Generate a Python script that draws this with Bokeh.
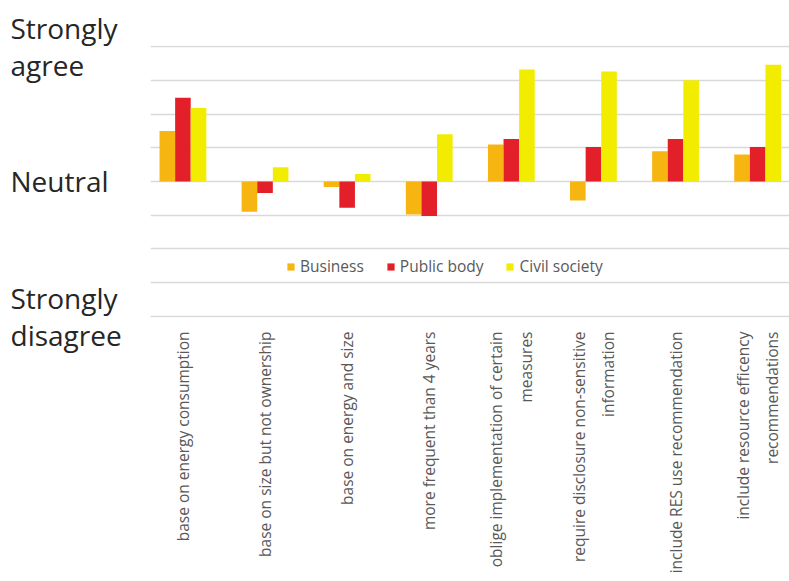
import math
from bokeh.plotting import figure
from bokeh.layouts import row, column
from bokeh.models import ColumnDataSource, Range1d, FixedTicker
from bokeh.transform import dodge
from bokeh.embed import file_html
from bokeh.resources import INLINE

categories = [
    "base on energy consumption",
    "base on size but not ownership",
    "base on energy and size",
    "more frequent than 4 years",
    "oblige implementation of certain\nmeasures",
    "require disclosure non-sensitive\ninformation",
    "include RES use recommendation",
    "include resource efficency\nrecommendations",
]
business = [0.75, -0.45, -0.08, -0.49, 0.55, -0.28, 0.45, 0.40]
public_body = [1.24, -0.17, -0.39, -0.51, 0.63, 0.51, 0.63, 0.51]
civil_society = [1.09, 0.21, 0.11, 0.70, 1.66, 1.63, 1.50, 1.73]

series_names = ["Business", "Public body", "Civil society"]
series_colors = ["#F7B512", "#E3202A", "#F2EC00"]

y_levels = [2, 0, -2]
y_level_labels = ["Strongly\nagree", "Neutral", "Strongly\ndisagree"]
grid_levels = [-2, -1.5, -1, -0.5, 0, 0.5, 1, 1.5, 2]

pos = list(range(len(categories)))
source = ColumnDataSource(dict(pos=pos, business=business,
                               public=public_body, civil=civil_society))

# ---- left panel holding the agreement-scale labels ----
lp = figure(
    width=150, height=581,
    x_range=Range1d(0, 150), y_range=Range1d(-5.926, 2.681),
    output_backend="svg", toolbar_location=None,
    min_border_left=0, min_border_right=0, min_border_top=0, min_border_bottom=0,
)
lp.axis.visible = False
lp.grid.visible = False
lp.outline_line_color = None
lp.text(x=[10] * len(y_levels), y=y_levels, text=y_level_labels,
        text_align="left", text_baseline="middle",
        text_font=dict(value="Open Sans"), text_font_size="28px",
        text_color="#262626", text_line_height=0.95)

# ---- main chart ----
p = figure(
    width=639, height=581,
    x_range=Range1d(-0.395, 7.388),
    y_range=Range1d(-2.015, 2.015),
    output_backend="svg", toolbar_location=None,
    min_border_left=0, min_border_right=0, min_border_top=45,
    min_border_bottom=264,
)
p.outline_line_color = None
p.background_fill_color = "white"

bar_w = 0.19
for col, off, name, color in zip(["business", "public", "civil"],
                                 [-bar_w, 0, bar_w], series_names, series_colors):
    p.vbar(x=dodge("pos", off), top=col, bottom=0,
           width=bar_w, source=source, fill_color=color, line_color=None,
           legend_label=name)

p.xgrid.visible = False
p.ygrid.ticker = FixedTicker(ticks=grid_levels)
p.ygrid.grid_line_color = "#d9d9d9"
p.ygrid.grid_line_width = 1.5
p.yaxis.visible = False

ax = p.xaxis[0]
ax.ticker = FixedTicker(ticks=pos)
ax.major_label_overrides = {i: c for i, c in zip(pos, categories)}
ax.axis_line_color = None
ax.major_tick_line_color = None
ax.minor_tick_line_color = None
ax.major_label_orientation = math.pi / 2
ax.major_label_standoff = 8
ax.major_label_text_font = "Open Sans"
ax.major_label_text_font_size = "15.5px"
ax.major_label_text_color = "#595959"
ax.major_label_text_line_height = 1.35

lg = p.legend[0]
lg.orientation = "horizontal"
lg.location = (136, 40)
lg.background_fill_alpha = 0
lg.border_line_color = None
lg.padding = 0
lg.margin = 0
lg.spacing = 22
lg.glyph_width = 9
lg.glyph_height = 9
lg.label_height = 16
lg.label_standoff = 5
lg.label_text_font = "Open Sans"
lg.label_text_font_size = "15.5px"
lg.label_text_color = "#595959"

layout = row(column(lp), p, spacing=0)
open("out.html", "w").write(file_html(layout, INLINE))
